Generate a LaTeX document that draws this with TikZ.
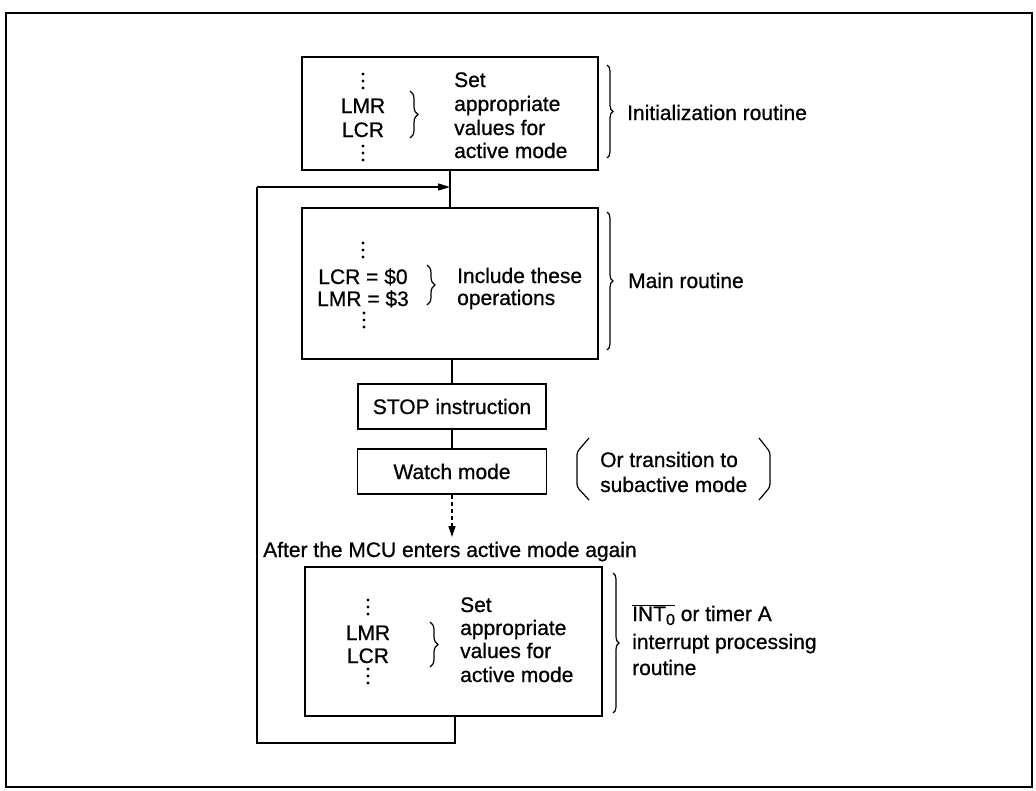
\documentclass[tikz,border=0pt]{standalone}
\usepackage{fontspec}
\setmainfont{Liberation Sans}
\newfontfamily\dfont{Liberation Sans}[FakeBold=0.7]
\usetikzlibrary{arrows.meta,decorations.pathreplacing}
\newcommand\myvdots[2]{\foreach \k in {0,1,2}{\fill (#1,#2+7*\k) circle (1.6pt);}}
\tikzset{
  mainbox/.style={draw, line width=2.2pt, inner sep=0pt},
  smallbox/.style={draw, line width=1.8pt, inner sep=0pt, font=\fontsize{21}{24}\dfont},
  conn/.style={line width=1.4pt},
  txt/.style={anchor=base west, inner sep=0pt, font=\fontsize{21}{24}\dfont},
  ctxt/.style={anchor=base, inner sep=0pt, font=\fontsize{21}{24}\dfont},
  smallbrace/.style={decorate, decoration={brace, amplitude=8pt}, line width=1.2pt},
  bigbrace/.style={decorate, decoration={brace, amplitude=6pt}, line width=1.2pt},
  tip/.style={-{Triangle[length=12pt,width=7pt]}}
}
\begin{document}
\begin{tikzpicture}[x=1pt,y=-1pt]
\useasboundingbox (0,0) rectangle (1036,790);
\draw[line width=2.6pt] (6,13) rectangle (1032,787);

% boxes
\node[mainbox, minimum width=296pt, minimum height=113pt] (init) at (450,113.5) {};
\node[mainbox, minimum width=296pt, minimum height=151pt] (main) at (450,283.5) {};
\node[smallbox, minimum width=188pt, minimum height=45pt] (stop) at (452,406.5) {STOP instruction};
\node[smallbox, minimum width=189pt, minimum height=45pt] (watch) at (452,471.5) {Watch mode};
\node[mainbox, minimum width=297pt, minimum height=149pt] (intr) at (453.5,641.5) {};

% box 1 contents
\myvdots{363}{74}
\node[ctxt] (lmr1) at (363,113) {LMR};
\node[ctxt] (lcr1) at (363,137) {LCR};
\myvdots{363}{146}
\draw[smallbrace] (410,91) -- (410,138);
\node[txt] (set1a) at (454,87) {Set};
\node[txt] (set1b) at (454,111) {appropriate};
\node[txt] (set1c) at (454,135) {values for};
\node[txt] (set1d) at (454,158) {active mode};

% box 2 contents
\myvdots{363}{243}
\node[ctxt] (lcr2) at (363,284) {LCR = \$0};
\node[ctxt] (lmr2) at (363,306) {LMR = \$3};
\myvdots{364}{313}
\draw[smallbrace] (427,265) -- (427,305);
\node[txt] (inc1) at (457,283) {Include these};
\node[txt] (inc2) at (457,305) {operations};

% box 3 contents
\myvdots{368}{600}
\node[ctxt] (lmr3) at (368,640) {LMR};
\node[ctxt] (lcr3) at (368,663) {LCR};
\myvdots{368}{669}
\draw[smallbrace] (430,622) -- (430,667);
\node[txt] (set3a) at (460,612) {Set};
\node[txt] (set3b) at (460,635) {appropriate};
\node[txt] (set3c) at (460,658) {values for};
\node[txt] (set3d) at (460,682) {active mode};

% right braces and labels
\draw[bigbrace] (607,65) -- (607,158);
\node[txt] (initlbl) at (627,120) {Initialization routine};
\draw[bigbrace] (607,212) -- (607,350);
\node[txt] (mainlbl) at (628,288) {Main routine};
\draw[bigbrace] (613,573) -- (613,713);
\node[txt] (intlbl1) at (632,621) {$\overline{\hbox{\dfont INT{\fontsize{16}{16}\dfont\raisebox{-4pt}{0}}}}$ or timer A};
\node[txt] (intlbl2) at (632,649) {interrupt processing};
\node[txt] (intlbl3) at (632,675) {routine};

% parentheses around note
\draw[line width=1.2pt, rounded corners=3pt] (589,438) -- (577,452) -- (577,487) -- (589,500);
\draw[line width=1.2pt, rounded corners=3pt] (759,438) -- (770,452) -- (770,487) -- (759,500);
\node[txt] (or1) at (600,467) {Or transition to};
\node[txt] (or2) at (600,492) {subactive mode};

% after label
\node[txt] (after) at (263,557) {After the MCU enters active mode again};

% connectors
\draw[conn] (init.south) -- (main.north);
\draw[conn] (main.south -| stop.north) -- (stop.north);
\draw[conn] (stop.south) -- (watch.south |- watch.north);
\coordinate (dashend) at (452,537);
\draw[conn, dash pattern=on 4pt off 3pt, -{Triangle[length=11pt,width=7pt]}] (watch.south) -- (dashend);

\coordinate (loopA) at (455,743);
\coordinate (loopB) at (257,743);
\coordinate (loopC) at (257,187);
\draw[conn] (intr.south -| loopA) -- (loopA) -- (loopB) -- (loopC);
\draw[conn, tip] (loopC) -- (loopC -| init.south);
\end{tikzpicture}
\end{document}
